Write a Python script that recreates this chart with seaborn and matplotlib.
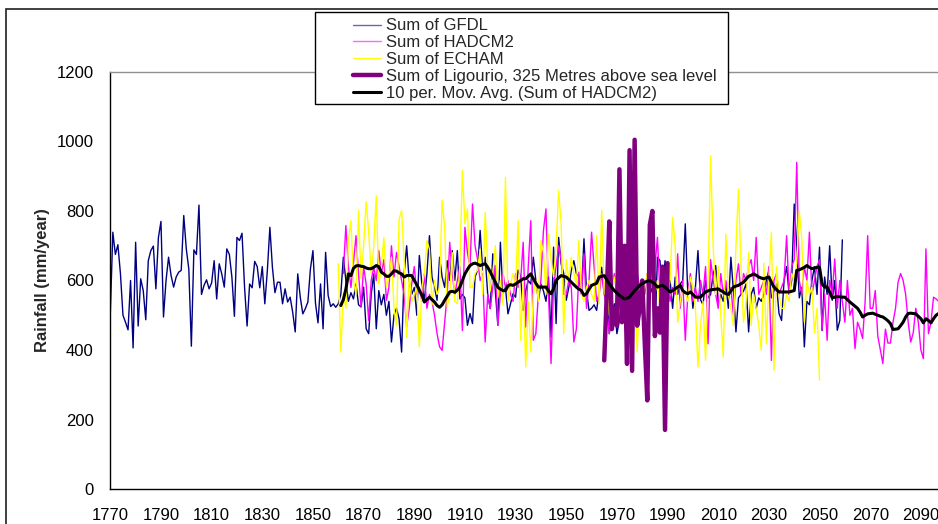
import numpy as np
import pandas as pd
import matplotlib
matplotlib.use("Agg")
import matplotlib.pyplot as plt
from matplotlib.lines import Line2D
from matplotlib.patches import Rectangle
import seaborn as sns

# ---------------- data ----------------
gfdl_start = 1770
gfdl = [
    504, 739, 675, 703, 620, 500, 480, 458, 600, 406,
    710, 469, 605, 571, 487, 657, 686, 699, 576, 724,
    770, 495, 600, 667, 614, 581, 610, 624, 629, 787,
    691, 633, 411, 688, 675, 817, 560, 586, 602, 576,
    593, 657, 547, 648, 619, 581, 691, 675, 610, 497,
    724, 715, 736, 581, 469, 590, 579, 655, 640, 579,
    640, 533, 629, 753, 638, 565, 595, 595, 533, 576,
    538, 552, 509, 452, 619, 552, 504, 519, 538, 633,
    686, 535, 478, 590, 461, 681, 557, 525, 533, 523,
    533,
    560, 667, 600, 540, 565, 547, 590, 530, 524, 581,
    461, 447, 560, 619, 461, 571, 530, 560, 500, 540,
    423, 500, 520, 490, 394, 620, 700, 600, 560, 580,
    500, 672, 590, 543, 620, 729, 610, 580, 543, 667,
    610, 580, 657, 600, 686, 600, 686, 547, 560, 550,
    471, 505, 476, 610, 630, 744, 630, 667, 560, 519,
    677, 570, 471, 710, 562, 580, 504, 533, 562, 552,
    630, 610, 514, 571, 600, 590, 667, 600, 543, 590,
    570, 540, 610, 437, 696, 476, 724, 648, 620, 543,
    580, 629, 657, 620, 610, 560, 720, 570, 514, 520,
    530, 514, 570, 638, 560, 590, 447, 505, 533, 447,
    485, 550, 580, 600, 560, 520, 543, 490, 510, 567,
    485, 437, 560, 580, 437, 667, 657, 560, 657, 560,
    600, 520, 610, 560, 590,
    600, 763, 560, 610, 520, 580, 686, 545, 530, 600,
    550, 560, 620, 643, 530, 560, 540, 590, 520, 667,
    570, 452, 550, 560, 570, 590, 452, 560, 580, 520,
    550, 540, 560, 600, 629, 550, 570, 590, 505, 485,
    600, 640, 560, 600, 820, 700, 550, 580, 409, 540,
    530, 600, 640, 560, 696, 456, 610, 560, 700, 543,
    600, 457, 485, 717,
]

hadcm2_start = 1862
hadcm2 = [
    620, 758, 640, 580, 650, 729, 620, 524, 640, 590,
    485, 600, 638, 600, 686, 620, 660, 543, 580, 700,
    610, 681, 640, 600, 560, 466, 520, 590, 640, 560,
    580, 540, 620, 520, 560, 540, 500, 447, 409, 399,
    480, 560, 710, 620, 560, 600, 640, 456, 753, 680,
    640, 820, 700, 660, 600, 620, 423, 560, 520, 580,
    643, 471, 560, 620, 580, 600, 560, 540, 620, 580,
    600, 710, 466, 640, 772, 428, 447, 560, 600, 744,
    806, 560, 361, 590, 640, 700, 660, 560, 560, 600,
    580, 423, 460, 624, 560, 677, 520, 600, 739, 640,
    540, 560, 620, 560, 520, 447, 580, 620, 560, 540,
    560, 600, 520, 560, 540, 600, 620, 580, 600, 560,
    620, 600, 580, 640, 724, 560, 540, 610, 590, 540,
    580, 560, 677, 520, 600, 428, 560, 620, 540, 580,
    540, 600, 560, 640, 418, 660, 600, 560, 520, 620,
    560, 600, 560, 580, 500, 600, 648, 560, 620, 600,
    640, 660, 600, 724, 560, 580, 600, 560, 640, 370,
    600, 620, 560, 580, 600, 729, 560, 640, 660, 940,
    600, 560, 640, 600, 739, 560, 600, 640, 660, 460,
    560, 428, 600, 560, 662, 520, 600, 540, 480, 600,
    500, 520, 404, 480, 460, 433, 540, 729, 520, 520,
    571, 440, 400, 361, 460, 420, 420, 480, 520, 595,
    620, 600, 560, 480, 423, 450, 520, 480, 400, 375,
    691, 447, 480, 552, 547, 540,
]

echam_start = 1860
echam = [
    648, 394, 560, 520, 715, 772, 600, 560, 801, 605,
    700, 827, 740, 619, 700, 844, 590, 640, 724, 581,
    610, 667, 520, 470, 777, 801, 657, 437, 620, 540,
    560, 580, 409, 580, 620, 715, 690, 530, 600, 560,
    580, 830, 753, 524, 560, 680, 540, 533, 640, 916,
    763, 806, 580, 580, 620, 630, 690, 560, 796, 640,
    570, 620, 701, 550, 600, 530, 897, 540, 590, 620,
    580, 772, 428, 600, 351, 540, 394, 560, 600, 540,
    715, 680, 560, 734, 660, 610, 700, 858, 763, 447,
    660, 600, 667, 620, 590, 715, 560, 540, 580, 600,
    560, 540, 729, 533, 801, 560, 640, 500, 560, 610,
    580, 620, 560, 590, 640, 600, 620, 580, 394, 560,
    540, 580, 620, 640, 580, 560, 600, 520, 500, 580,
    560, 600, 782, 700, 480, 540, 580, 560, 540, 610,
    580, 520, 351, 470, 540, 370, 600, 959, 700, 560,
    640, 500, 380, 734, 560, 520, 470, 700, 863, 640,
    480, 540, 681, 470, 560, 520, 470, 399, 650, 418,
    600, 739, 342, 640, 560, 520, 520, 560, 540, 620,
    600, 650, 801, 720, 480, 600, 560, 580, 450, 520,
    313,
]

ligourio_start = 1965
ligourio = [
    370, 560, 770, 460, 520, 470, 920, 480, 700, 360,
    975, 340, 1005, 470, 520, 600, 420, 255, 760, 800,
    440, 520, 450, 640, 170, 650,
]

movavg_start = 1861
movavg = [
    528, 545, 575, 619, 614, 635, 642, 643, 641,
    640, 636, 634, 634, 638, 643, 640, 624, 619, 612,
    612, 619, 628, 627, 622, 619, 610, 614, 615, 614,
    600, 588, 572, 558, 538, 545, 552, 545, 538, 528,
    523, 530, 543, 555, 567, 569, 566, 572, 581, 600,
    619, 632, 643, 648, 650, 647, 643, 646, 648, 638,
    625, 610, 595, 581, 575, 571, 571, 585, 588, 586,
    590, 595, 600, 605, 605, 612, 619, 605, 592, 581,
    581, 581, 581, 570, 562, 576, 600, 608, 614, 612,
    610, 603, 595, 588, 581, 575, 571, 557, 562, 575,
    586, 589, 592, 610, 612, 614, 602, 590, 580, 571,
    564, 557, 552, 547, 549, 552, 562, 571, 578, 586,
    591, 595, 598, 600, 595, 590, 581, 584, 586, 581,
    574, 567, 571, 576, 581, 586, 571, 565, 562, 567,
    560, 552, 552, 552, 560, 567, 570, 573, 574, 575,
    576, 571, 567, 562, 560, 570, 581, 584, 586, 591,
    595, 604, 612, 615, 619, 615, 610, 607, 605, 608,
    610, 595, 581, 574, 567, 567, 567, 567, 567, 569,
    571, 629, 631, 634, 638, 643, 638, 634, 636, 638,
    638, 590, 581, 581, 567, 550, 552, 554, 553, 552,
    552, 545, 538, 532, 526, 520, 509, 495, 500, 504,
    505, 506, 503, 500, 497, 495, 490, 484, 476, 459,
    460, 461, 470, 480, 495, 505, 506, 505, 504, 497,
    490, 478, 490, 485, 478, 490, 500, 505,
]

series_names = [
    "Sum of GFDL",
    "Sum of HADCM2",
    "Sum of ECHAM",
    "Sum of Ligourio, 325 Metres above sea level",
    "10 per. Mov. Avg. (Sum of HADCM2)",
]
y_ticks = [0, 200, 400, 600, 800, 1000, 1200]
x_ticks = list(range(1770, 2091, 20))


def frame(name, start, vals):
    return pd.DataFrame({"Year": np.arange(start, start + len(vals)),
                         "Rainfall": vals, "Series": name})


data = pd.concat([
    frame(series_names[0], gfdl_start, gfdl),
    frame(series_names[1], hadcm2_start, hadcm2),
    frame(series_names[2], echam_start, echam),
    frame(series_names[3], ligourio_start, ligourio),
    frame(series_names[4], movavg_start, movavg),
], ignore_index=True)

colors = ["#000080", "#FF00FF", "#FFFF00", "#800080", "#000000"]
widths = [1.0, 1.0, 1.0, 3.2, 2.2]

# ---------------- figure ----------------
sns.set_style("white")
plt.rcParams["font.family"] = ["Liberation Sans", "DejaVu Sans"]

W, H = 938, 524
fig = plt.figure(figsize=(W / 100, H / 100), dpi=100)
left_px, right_px, top_px, bottom_px = 110.3, 938, 72, 489
ax = fig.add_axes([left_px / W, 1 - bottom_px / H,
                   (right_px - left_px) / W, (bottom_px - top_px) / H])

for name, c, lw in zip(series_names, colors, widths):
    sns.lineplot(data=data[data["Series"] == name], x="Year", y="Rainfall",
                 ax=ax, color=c, linewidth=lw, estimator=None, sort=False,
                 legend=False)

ax.set_xlim(1770, 1770 + (right_px - left_px) / 2.533)
ax.set_ylim(0, 1200)
ax.set_xticks(x_ticks)
ax.set_yticks(y_ticks)
ax.set_xlabel("")
ax.set_ylabel("Rainfall (mm/year)", fontsize=12, fontweight="bold", labelpad=5)
ax.tick_params(axis="both", direction="out", length=5, width=1, color="black",
               labelsize=12, labelcolor="black", pad=7)
ax.tick_params(axis="x", pad=9)
for s in ["left", "bottom"]:
    ax.spines[s].set_color("black")
    ax.spines[s].set_linewidth(1)
ax.spines["top"].set_color("#909090")
ax.spines["top"].set_linewidth(1)
ax.spines["right"].set_visible(False)
ax.grid(False)

# chart area border (cropped at right and bottom)
fig.add_artist(Rectangle((6 / W, -0.2), 2.0, 1 - 9 / H + 0.2,
                         transform=fig.transFigure, fill=False,
                         edgecolor="#202020", linewidth=1.2, clip_on=False))

# legend box (drawn over the plot area) and legend entries
fig.add_artist(Rectangle((315 / W, 1 - 104 / H), (728 - 315) / W, (104 - 12) / H,
                         transform=fig.transFigure, fill=True, facecolor="white",
                         edgecolor="black", linewidth=1.0, zorder=2))
handles = [Line2D([0], [0], color=c, lw=lw) for c, lw in zip(colors, widths)]
handles[0].set_alpha(0.6)
handles[1].set_alpha(0.6)
leg = fig.legend(handles, series_names, loc="upper left",
                 bbox_to_anchor=(353 / W, 1 - 18.5 / H), bbox_transform=fig.transFigure,
                 frameon=False, fontsize=12, handlelength=1.7, handletextpad=0.25,
                 labelspacing=0.11, borderpad=0, borderaxespad=0)
leg.set_zorder(5)

fig.savefig("out.png", dpi=100)
